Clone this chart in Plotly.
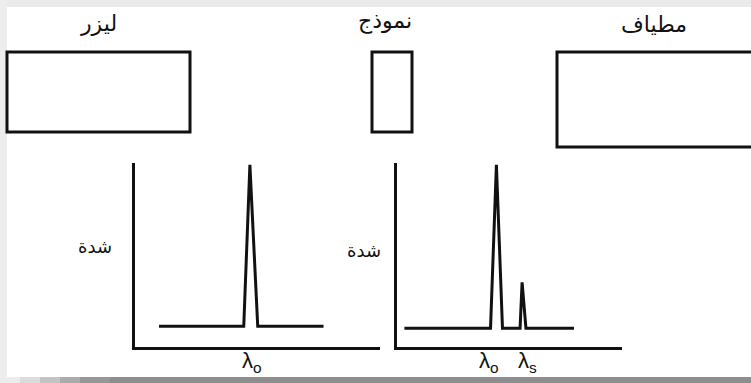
import plotly.graph_objects as go

W, H = 751, 383

# أسماء الأجهزة
device_labels = ['ليزر', 'نموذج', 'مطياف']

# طيف الليزر (الطول الموجي، الشدة)
laser_x = [10, 44.5, 47, 50.2, 77]
laser_y = [11, 11, 99, 11, 11]
laser_ticks = [48]
laser_ticktext = ['λ<sub>o</sub>']

# طيف رامان
raman_x = [3.5, 41.7, 44.3, 47, 54.8, 55.7, 57.4, 78.7]
raman_y = [10, 10, 99, 10, 10, 35, 10, 10]
raman_ticks = [41, 58]
raman_ticktext = ['λ<sub>o</sub>', 'λ<sub>s</sub>']

intensity_label = 'شدة'

AR_FONT = 'DejaVu Sans'
LAT_FONT = 'Liberation Sans, Arial'
BLACK = '#111111'

fig = go.Figure()

fig.add_trace(go.Scatter(x=laser_x, y=laser_y, mode='lines', xaxis='x2', yaxis='y2',
                         line=dict(color=BLACK, width=3), hoverinfo='skip'))
fig.add_trace(go.Scatter(x=raman_x, y=raman_y, mode='lines', xaxis='x3', yaxis='y3',
                         line=dict(color=BLACK, width=3), hoverinfo='skip'))


def px_x(v):
    return v / W


def px_y(v):
    return 1 - v / H


spec_axis = dict(showline=True, linewidth=3, linecolor=BLACK, showgrid=False,
                 zeroline=False, ticks='', showticklabels=False, fixedrange=True)

fig.update_layout(
    width=W, height=H,
    margin=dict(l=0, r=0, t=0, b=0),
    paper_bgcolor='white', plot_bgcolor='rgba(0,0,0,0)',
    showlegend=False,
    xaxis=dict(domain=[0, 1], range=[0, W], visible=False, fixedrange=True),
    yaxis=dict(domain=[0, 1], range=[H, 0], visible=False, fixedrange=True),
    xaxis2=dict(spec_axis, domain=[px_x(134.5), px_x(380)], range=[0, 100], anchor='y2'),
    yaxis2=dict(spec_axis, domain=[px_y(346.5), px_y(163)], range=[0, 100], anchor='x2'),
    xaxis3=dict(spec_axis, domain=[px_x(396.5), px_x(622)], range=[0, 100], anchor='y3'),
    yaxis3=dict(spec_axis, domain=[px_y(346.5), px_y(163)], range=[0, 100], anchor='x3'),
)

# إطار الصورة الرمادي
fig.add_shape(type='rect', x0=0, x1=W, y0=0, y1=7, xref='x', yref='y',
              fillcolor='#eaeaea', line_width=0, layer='below')
fig.add_shape(type='rect', x0=0, x1=7, y0=0, y1=H, xref='x', yref='y',
              fillcolor='#ededed', line_width=0, layer='below')
shades = ['#ececec', '#dcdcdc', '#c4c4c4', '#ababab', '#979797', '#8e8e8e']
seg = [0, 20, 40, 60, 80, 110, W]
for i, c in enumerate(shades):
    fig.add_shape(type='rect', x0=seg[i], x1=seg[i + 1], y0=377, y1=H, xref='x', yref='y',
                  fillcolor=c, line_width=0, layer='below')

# الصناديق
boxes = [(7, 190, 52, 132), (372, 412, 52, 132), (557, 760, 52, 147)]
for x0, x1, y0, y1 in boxes:
    fig.add_shape(type='rect', x0=x0, x1=x1, y0=y0, y1=y1, xref='x', yref='y',
                  line=dict(color=BLACK, width=3), fillcolor='rgba(0,0,0,0)')

label_pos = [(98, 23), (385, 21), (654, 24)]
for txt, (x, y) in zip(device_labels, label_pos):
    fig.add_annotation(x=x, y=y, xref='x', yref='y', text=txt, showarrow=False,
                       font=dict(family=AR_FONT, size=22, color=BLACK))

for x, y in [(95, 246), (364, 250)]:
    fig.add_annotation(x=x, y=y, xref='x', yref='y', text=intensity_label, showarrow=False,
                       font=dict(family=AR_FONT, size=18, color=BLACK))

# تسميات الأطوال الموجية تحت المحور
for ax, vals, texts in [('x2', laser_ticks, laser_ticktext), ('x3', raman_ticks, raman_ticktext)]:
    for v, t in zip(vals, texts):
        fig.add_annotation(x=v, y=362, xref=ax, yref='y', text=t, showarrow=False,
                           font=dict(family=LAT_FONT, size=22, color=BLACK))

fig.write_html("out.html", config={'displayModeBar': False},
               post_script="document.body.style.margin='0';")
